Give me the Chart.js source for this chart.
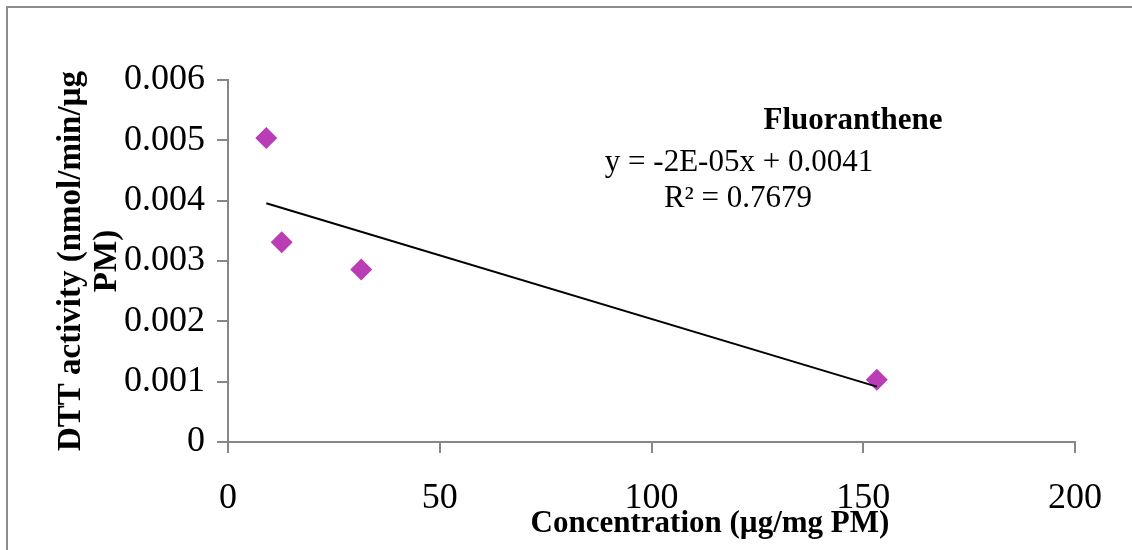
<!DOCTYPE html>
<html lang="en">
<head>
  <meta charset="UTF-8">
  <title>Fluoranthene DTT activity</title>
  <script src="https://cdn.jsdelivr.net/npm/chart.js"></script>
  <style>
    body { margin: 0; background: #fff; }
    canvas { display: block; }
  </style>
</head>
<body>
  <canvas id="dttChart" width="1132" height="550"></canvas>
  <script>
// values
const concentration = [9.04, 12.68, 31.47, 153.2];      // µg/mg PM
const dttActivity = [0.00504, 0.00331, 0.00286, 0.00103]; // nmol/min/µg PM
const xTickValues = [0, 50, 100, 150, 200];
const yTickValues = [0, 0.001, 0.002, 0.003, 0.004, 0.005, 0.006];
const yTickLabels = ['0', '0.001', '0.002', '0.003', '0.004', '0.005', '0.006'];
const seriesName = 'Fluoranthene';
const equationText = 'y = -2E-05x + 0.0041';
const r2Text = 'R² = 0.7679';

const serif = "'Liberation Serif', 'Times New Roman', serif";
const axisGrey = '#878787';

// least squares trend line over the points
function linearFit(xs, ys) {
    const n = xs.length;
    const mx = xs.reduce((a, b) => a + b, 0) / n;
    const my = ys.reduce((a, b) => a + b, 0) / n;
    let sxy = 0, sxx = 0;
    for (let i = 0; i < n; i++) {
        sxy += (xs[i] - mx) * (ys[i] - my);
        sxx += (xs[i] - mx) * (xs[i] - mx);
    }
    const slope = sxy / sxx;
    return { slope, intercept: my - slope * mx };
}
const fit = linearFit(concentration, dttActivity);
const xMin = Math.min(...concentration);
const xMax = Math.max(...concentration);
const trendData = [xMin, xMax].map(x => ({ x: x, y: fit.intercept + fit.slope * x }));
const pointData = concentration.map((x, i) => ({ x: x, y: dttActivity[i] }));

const labelPlugin = {
    id: 'labelPlugin',
    beforeDraw(chart) {
        const ctx = chart.ctx;
        ctx.save();
        ctx.fillStyle = '#fff';
        ctx.fillRect(0, 0, chart.width, chart.height);
        ctx.strokeStyle = '#8c8c8c';
        ctx.lineWidth = 2;
        ctx.strokeRect(7, 7, chart.width + 20, chart.height + 20);
        ctx.restore();
    },
    afterDraw(chart) {
        const ctx = chart.ctx;
        ctx.save();
        ctx.fillStyle = '#000';
        ctx.textAlign = 'center';
        ctx.textBaseline = 'alphabetic';
        ctx.font = 'bold 31px ' + serif;
        ctx.fillText(seriesName, 853, 129);
        ctx.fillText('Concentration (µg/mg PM)', 710, 532);
        ctx.font = '31px ' + serif;
        ctx.fillText(equationText, 739, 171);
        ctx.fillText(r2Text, 738, 207);
        ctx.restore();
    }
};

const ctx = document.getElementById('dttChart').getContext('2d');
const dttChart = new Chart(ctx, {
    type: 'scatter',
    data: {
        datasets: [
            {
                label: 'Linear trend',
                data: trendData,
                showLine: true,
                borderColor: '#000',
                borderWidth: 2,
                pointRadius: 0,
                fill: false
            },
            {
                label: seriesName,
                data: pointData,
                pointStyle: 'rectRot',
                pointRadius: 11,
                pointBackgroundColor: '#B93DB4',
                pointBorderColor: '#B93DB4',
                pointBorderWidth: 0
            }
        ]
    },
    options: {
        responsive: false,
        animation: false,
        layout: { padding: { left: 0, top: 80, right: 57, bottom: 0 } },
        plugins: {
            legend: { display: false },
            tooltip: { enabled: false }
        },
        scales: {
            x: {
                type: 'linear',
                min: 0,
                max: 200,
                afterBuildTicks: s => { s.ticks = xTickValues.map(v => ({ value: v })); },
                afterFit: s => { s.height = 108; },
                ticks: {
                    color: '#000',
                    padding: 24,
                    maxRotation: 0,
                    font: { family: serif, size: 36 },
                    callback: v => String(v)
                },
                grid: {
                    drawOnChartArea: false,
                    tickLength: 11,
                    color: axisGrey,
                    lineWidth: 2
                },
                border: { color: axisGrey, width: 2 }
            },
            y: {
                type: 'linear',
                min: 0,
                max: 0.006,
                afterBuildTicks: s => { s.ticks = yTickValues.map(v => ({ value: v })); },
                afterFit: s => { s.width = 228; },
                ticks: {
                    color: '#000',
                    padding: 12,
                    font: { family: serif, size: 36 },
                    callback: (v, i) => yTickLabels[i]
                },
                grid: {
                    drawOnChartArea: false,
                    tickLength: 11,
                    color: axisGrey,
                    lineWidth: 2
                },
                border: { color: axisGrey, width: 2 },
                title: {
                    display: true,
                    text: ['DTT activity (nmol/min/µg', 'PM)'],
                    color: '#000',
                    font: { family: serif, size: 33, weight: 'bold', lineHeight: 1.08 },
                    padding: { top: 54, bottom: 0 }
                }
            }
        }
    },
    plugins: [labelPlugin]
});
  </script>
</body>
</html>
